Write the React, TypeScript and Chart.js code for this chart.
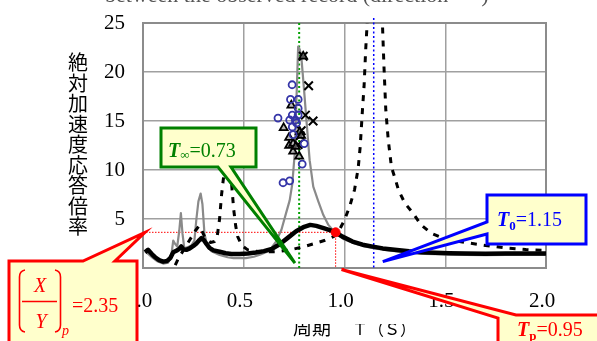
import React, { useEffect, useRef } from "react";
import { Chart, registerables } from "chart.js";
Chart.register(...registerables);

// ---------- data ----------
const xTickStep = 0.5;
const yTickStep = 5;
const xMin = 0, xMax = 2.0, yMin = 0, yMax = 25;

const blackPeriod = [0.01,0.025,0.045,0.06,0.08,0.10,0.12,0.135,0.15,0.165,0.18,0.19,0.20,0.215,0.232,0.25,0.265,0.28,0.29,0.30,0.315,0.33,0.35,0.38,0.41,0.44,0.48,0.52,0.56,0.60,0.64,0.68,0.72,0.76,0.80,0.83,0.86,0.90,0.93,0.956,0.99,1.04,1.09,1.14,1.19,1.26,1.32,1.38,1.45,1.52,1.6,1.7,1.8,1.9,2.0];
const blackRatio  = [1.6,1.85,1.4,1.1,0.8,0.65,0.72,1.0,1.6,1.75,1.95,2.2,1.9,1.85,2.0,2.25,2.5,2.85,3.05,2.9,2.45,2.05,1.8,1.66,1.5,1.43,1.43,1.48,1.58,1.72,1.95,2.45,3.1,3.75,4.2,4.4,4.3,4.05,3.85,3.64,3.2,2.7,2.38,2.18,2.0,1.84,1.7,1.6,1.55,1.5,1.47,1.46,1.48,1.48,1.48];

const grayPeriod = [0.01,0.03,0.05,0.07,0.10,0.125,0.14,0.15,0.158,0.17,0.18,0.188,0.196,0.205,0.22,0.24,0.255,0.265,0.275,0.286,0.295,0.305,0.32,0.34,0.38,0.42,0.45,0.51,0.55,0.58,0.61,0.63,0.66,0.687,0.71,0.728,0.741,0.753,0.761,0.77,0.778,0.786,0.80,0.811,0.827,0.845,0.87,0.895,0.92,0.945,0.97,1.0,1.05,1.1,1.15,1.2,1.3,1.4,1.5,1.6,1.7,1.8,1.9,2.0];
const grayRatio  = [1.7,1.35,1.0,0.7,0.45,0.55,1.2,2.8,2.5,2.2,3.8,5.6,3.5,2.0,2.1,2.3,2.8,5.0,6.8,7.6,6.5,3.5,2.2,1.7,1.33,1.1,1.0,1.0,1.15,1.35,1.6,1.85,2.7,3.9,5.6,6.9,8.6,11.7,16.8,22.6,22.3,21.5,18.0,15.1,11.0,8.3,6.8,5.4,4.4,3.8,3.3,2.9,2.5,2.2,2.0,1.85,1.6,1.45,1.38,1.33,1.3,1.33,1.33,1.33];

const dashPeriod = [0.16,0.175,0.2,0.23,0.26,0.278,0.29,0.31,0.335,0.355,0.368,0.38,0.39,0.40,0.41,0.42,0.43,0.44,0.45,0.46,0.47,0.49,0.52,0.56,0.6,0.66,0.73,0.8,0.86,0.9,0.945,0.975,1.0,1.026,1.05,1.068,1.078,1.089,1.097,1.105,1.112,1.125,1.15,1.175,1.188,1.196,1.205,1.217,1.233,1.25,1.268,1.3,1.34,1.38,1.43,1.5,1.6,1.7,1.8,1.9,2.0];
const dashRatio  = [0.3,0.95,1.8,2.8,3.8,4.3,3.9,3.0,2.6,2.7,3.2,5.0,7.5,9.3,10.6,11.2,10.5,8.5,6.0,4.3,3.2,2.3,1.85,1.7,1.65,1.66,1.85,2.18,2.55,2.8,3.2,3.9,4.9,6.3,8.0,10.2,12.4,16.1,18.5,22.2,24.8,30,36,31,25.1,20.5,16.1,13.1,10.3,9.2,7.95,6.6,5.6,4.4,3.55,2.95,2.6,2.3,2.05,1.88,1.8];

const circlePeriod = [0.74,0.732,0.77,0.67,0.728,0.77,0.741,0.77,0.756,0.741,0.745,0.80,0.79,0.695,0.728,0.762];
const circleRatio  = [18.7,17.2,17.2,15.3,15.1,16.3,15.6,15.6,15.1,14.4,13.6,12.7,10.6,8.7,8.9,14.8];

const trianglePeriod = [0.795,0.736,0.698,0.725,0.745,0.778,0.725,0.745,0.775,0.758,0.785];
const triangleRatio  = [21.6,16.6,14.3,12.5,11.9,13.9,13.3,12.7,11.4,12.4,13.5];

const crossPeriod = [0.795,0.822,0.806,0.844,0.78,0.77,0.785];
const crossRatio  = [21.6,18.6,15.6,15.0,13.5,12.6,14.0];

const tInfText = "=0.73";
const tInfLine = 0.775;
const t0Text = "=1.15";
const t0Line = 1.145;
const tpText = "=0.95";
const tpPeriod = 0.956;
const peakRatio = 3.64;
const xyText = "=2.35";

const yTitle = "絶対加速度応答倍率";
const xTitleA = "周期";
const xTitleB = "Ｔ（Ｓ）";
const topTitle = "between the observed record (direction      )";

const zip = (xs: number[], ys: number[]) => xs.map((x, i) => ({ x, y: ys[i] }));

const SERIF = '"Liberation Serif", "Times New Roman", serif';
const CJK = '"Noto Sans CJK JP", "Noto Sans", sans-serif';

type Run = { t: string; f: string; dy?: number };
function drawRuns(ctx: CanvasRenderingContext2D, x: number, y: number, runs: Run[]) {
  let cx = x;
  for (const r of runs) {
    ctx.font = r.f;
    ctx.fillText(r.t, cx, y + (r.dy || 0));
    cx += ctx.measureText(r.t).width;
  }
}

function callout(ctx: CanvasRenderingContext2D, pts: number[][], stroke: string) {
  ctx.beginPath();
  pts.forEach((p, i) => (i ? ctx.lineTo(p[0], p[1]) : ctx.moveTo(p[0], p[1])));
  ctx.closePath();
  ctx.fillStyle = "#ffffcc";
  ctx.fill();
  ctx.lineWidth = 3;
  ctx.lineJoin = "miter";
  ctx.strokeStyle = stroke;
  ctx.stroke();
}

const overlay = {
  id: "overlay",
  beforeDatasetsDraw(chart: any) {
    const { ctx, chartArea: a, scales } = chart;
    const xs = scales.x, ys = scales.y;
    ctx.save();
    ctx.strokeStyle = "#8c8c8c";
    ctx.lineWidth = 2;
    ctx.strokeRect(a.left, a.top, a.right - a.left, a.bottom - a.top);

    // green dotted (T inf)
    ctx.setLineDash([2, 2.5]);
    ctx.strokeStyle = "#00a000";
    ctx.lineWidth = 2;
    let px = xs.getPixelForValue(tInfLine);
    ctx.beginPath(); ctx.moveTo(px, a.top); ctx.lineTo(px, a.bottom); ctx.stroke();
    // blue dotted (T0)
    ctx.strokeStyle = "#0000ff";
    ctx.lineWidth = 1.5;
    px = xs.getPixelForValue(t0Line);
    ctx.beginPath(); ctx.moveTo(px, a.top - 5); ctx.lineTo(px, a.bottom); ctx.stroke();
    // red dotted
    ctx.strokeStyle = "#ff0000";
    ctx.lineWidth = 1;
    ctx.setLineDash([1.5, 1.5]);
    const rx = xs.getPixelForValue(tpPeriod), ry = ys.getPixelForValue(peakRatio);
    ctx.beginPath();
    ctx.moveTo(xs.getPixelForValue(0), ry); ctx.lineTo(rx, ry);
    ctx.moveTo(rx, ry); ctx.lineTo(rx, ys.getPixelForValue(0));
    ctx.stroke();
    ctx.restore();
  },
  afterDraw(chart: any) {
    const { ctx, scales } = chart;
    const xs = scales.x, ys = scales.y;
    const P = (vx: number, vy: number) => [xs.getPixelForValue(vx), ys.getPixelForValue(vy)];
    ctx.save();
    ctx.setLineDash([]);

    // top title (cut by page top)
    ctx.fillStyle = "#555";
    ctx.font = `22px ${SERIF}`;
    ctx.textAlign = "left";
    ctx.textBaseline = "alphabetic";
    ctx.fillText(topTitle, 105, 1.5);

    // y title, stacked characters
    ctx.fillStyle = "#000";
    ctx.font = `20px ${CJK}`;
    ctx.textAlign = "center";
    ctx.textBaseline = "middle";
    [...yTitle].forEach((c, i) => ctx.fillText(c, 78, 62.5 + i * 20.5));

    // x title
    ctx.textAlign = "left";
    ctx.textBaseline = "alphabetic";
    ctx.font = `19px ${CJK}`;
    ctx.fillText(xTitleA, 293, 335);
    ctx.font = `16px ${CJK}`;
    ctx.fillText(xTitleB, 352, 335);
    ctx.fillStyle = "#fff";
    ctx.fillRect(285, 314, 140, 10);

    // callouts
    callout(ctx, [[161, 128], [256, 128], [256, 167], [231, 167], P(0.754, 0.5), [218, 167], [161, 167]], "#008000");
    callout(ctx, [[487, 195], [586, 195], [586, 244], [487, 244], [487, 234], P(1.19, 0.65), [487, 222]], "#0000ff");
    callout(ctx, [[9, 261], [83, 261], P(0.01, peakRatio), [115, 261], [137, 261], [137, 350], [9, 350]], "#ff0000");
    callout(ctx, [[498, 350], [498, 318], P(0.985, -0.15), [516, 315], [605, 315], [605, 350]], "#ff0000");

    // callout texts
    ctx.textAlign = "left";
    ctx.textBaseline = "alphabetic";
    ctx.fillStyle = "#008000";
    drawRuns(ctx, 168, 157, [
      { t: "T", f: `italic bold 20px ${SERIF}` },
      { t: "∞", f: `13px ${SERIF}`, dy: 2 },
      { t: tInfText, f: `20px ${SERIF}` },
    ]);
    ctx.fillStyle = "#0000ff";
    drawRuns(ctx, 497, 226, [
      { t: "T", f: `italic bold 20px ${SERIF}` },
      { t: "0", f: `bold 13px ${SERIF}`, dy: 4 },
      { t: t0Text, f: `20px ${SERIF}` },
    ]);
    ctx.fillStyle = "#ff0000";
    drawRuns(ctx, 517, 336, [
      { t: "T", f: `italic bold 20px ${SERIF}` },
      { t: "p", f: `bold 13px ${SERIF}`, dy: 4 },
      { t: tpText, f: `20px ${SERIF}` },
    ]);
    // (X/Y)p
    ctx.textAlign = "center";
    ctx.font = `italic 20px ${SERIF}`;
    ctx.fillText("X", 40, 292);
    ctx.fillText("Y", 41, 328);
    ctx.strokeStyle = "#ff0000";
    ctx.lineWidth = 1.3;
    ctx.beginPath(); ctx.moveTo(22, 301.5); ctx.lineTo(57, 301.5); ctx.stroke();
    ctx.lineWidth = 1.6;
    ctx.beginPath();
    ctx.moveTo(25, 270); ctx.quadraticCurveTo(19.5, 271, 19.5, 277); ctx.lineTo(19.5, 325); ctx.quadraticCurveTo(19.5, 331, 25, 332);
    ctx.moveTo(55, 270); ctx.quadraticCurveTo(60.5, 271, 60.5, 277); ctx.lineTo(60.5, 325); ctx.quadraticCurveTo(60.5, 331, 55, 332);
    ctx.stroke();
    ctx.textAlign = "left";
    ctx.font = `italic 14px ${SERIF}`;
    ctx.fillText("p", 62, 335);
    ctx.font = `20px ${SERIF}`;
    ctx.fillText(xyText, 72, 312);
    ctx.restore();
  },
};

export default function App() {
  const ref = useRef<HTMLCanvasElement | null>(null);
  useEffect(() => {
    if (!ref.current) return;
    const line = (data: any, color: string, width: number, order: number, dash: number[] = []) => ({
      data, borderColor: color, backgroundColor: color, borderWidth: width, borderDash: dash,
      pointRadius: 0, showLine: true, tension: 0, order, borderJoinStyle: "round", borderCapStyle: "butt",
    });
    const chart = new Chart(ref.current, {
      type: "scatter",
      data: {
        datasets: [
          { data: zip(circlePeriod, circleRatio), pointStyle: "circle", pointRadius: 3.5, borderColor: "#3535a8", backgroundColor: "rgba(255,255,255,0)", pointBorderWidth: 1.8, order: 0 },
          { data: zip(trianglePeriod, triangleRatio), pointStyle: "triangle", pointRadius: 4.5, borderColor: "#000", backgroundColor: "rgba(140,140,140,0.6)", pointBorderWidth: 1.8, order: 0 },
          { data: zip(crossPeriod, crossRatio), pointStyle: "crossRot", pointRadius: 6, borderColor: "#000", backgroundColor: "#000", pointBorderWidth: 2, order: 0 },
          { data: [{ x: tpPeriod, y: peakRatio }], pointStyle: "circle", pointRadius: 4.5, borderColor: "#ff0000", backgroundColor: "#ff0000", order: 0 },
          line(zip(blackPeriod, blackRatio), "#000", 4.5, 2),
          line(zip(dashPeriod, dashRatio), "#000", 3, 3, [6, 7]),
          line(zip(grayPeriod, grayRatio), "#8a8a8a", 2.2, 4),
        ] as any,
      },
      options: {
        animation: false,
        responsive: true,
        maintainAspectRatio: false,
        events: [],
        layout: { autoPadding: false, padding: { left: 0, right: 51, top: 23, bottom: 0 } },
        plugins: { legend: { display: false }, tooltip: { enabled: false }, title: { display: false } },
        scales: {
          x: {
            type: "linear", min: xMin, max: xMax,
            afterFit: (s: any) => { s.height = 73; s.paddingLeft = 0; s.paddingRight = 0; },
            grid: { color: "#a0a0a0", lineWidth: 1.5, drawTicks: false },
            border: { display: false },
            ticks: { stepSize: xTickStep, padding: 21, labelOffset: -4, color: "#000", font: { family: SERIF, size: 21 }, callback: (v: any) => Number(v).toFixed(1), maxRotation: 0 },
          },
          y: {
            type: "linear", min: yMin, max: yMax,
            afterFit: (s: any) => { s.width = 143; s.paddingTop = 0; s.paddingBottom = 0; },
            grid: { color: "#a0a0a0", lineWidth: 1.5, drawTicks: false },
            border: { display: false },
            ticks: { stepSize: yTickStep, padding: 18, color: "#000", font: { family: SERIF, size: 21 } },
          },
        },
      } as any,
      plugins: [overlay as any],
    });
    return () => chart.destroy();
  }, []);
  return (
    <div style={{ position: "fixed", left: 0, top: 0, width: 597, height: 341, background: "#fff" }}>
      <canvas ref={ref} />
    </div>
  );
}
